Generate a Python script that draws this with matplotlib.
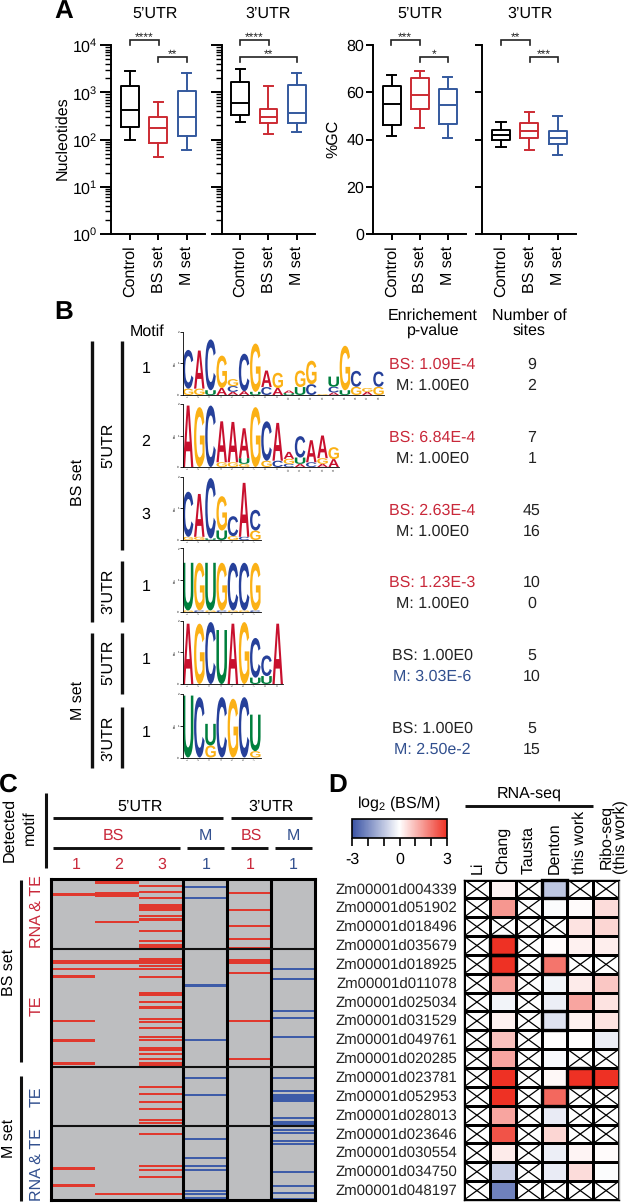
import numpy as np
import matplotlib
matplotlib.use("Agg")
from matplotlib import pylab as plt
from matplotlib.colors import LinearSegmentedColormap
from matplotlib.font_manager import FontProperties
from matplotlib.patches import PathPatch, Rectangle
from matplotlib.textpath import TextPath
from matplotlib.ticker import LogLocator, NullFormatter
from matplotlib.transforms import Affine2D

plt.rcParams["font.family"] = ["Liberation Sans", "DejaVu Sans"]
plt.rcParams["mathtext.default"] = "regular"
plt.rcParams["text.hinting"] = "no_hinting"
plt.rcParams["text.hinting_factor"] = 1

W, H = 630, 1203
FS = 11.3
RED = "#C9283A"
BLUE = "#32508F"
BOX_RED = "#CC2B33"
BOX_BLUE = "#34599E"

# panel A: whisker low, q1, median, q3, whisker high
groups = ["Control", "BS set", "M set"]
len_5utr = [[98, 184, 420, 1380, 2860], [42, 86, 172, 305, 620], [61, 117, 305, 1080, 2500]]
len_3utr = [[230, 335, 583, 1650, 3150], [132, 220, 295, 436, 1350], [141, 226, 363, 1420, 2590]]
gc_5utr = [[41.5, 46, 55, 62.5, 67.5], [45, 53, 59, 66, 69], [40.5, 46.5, 54.5, 61.5, 66.5]]
gc_3utr = [[37, 40, 42, 44, 47.5], [35.5, 40.5, 43.5, 47, 51.5], [33.5, 38, 40.5, 43.5, 50]]

# panel B: sequence logos, each column is (letter, bits) from the bottom up
logo1 = [
    [("G", .2), ("C", 1.22)], [("G", .2), ("A", 1.2)], [("U", .15), ("C", 1.6)],
    [("A", .22), ("G", 1.02)], [("A", .1), ("C", .18), ("G", .22)], [("A", .12), ("C", 1.18)],
    [("U", .1), ("G", 1.52)], [("C", .25), ("A", .52)], [("A", .22), ("G", .48)],
    [("U", .06), ("A", .08)], [("U", .25), ("G", .52)], [("C", .34), ("G", .74)],
    [("G", .03)], [("A", .08), ("C", .18), ("U", .32)], [("U", .15), ("G", 1.4)],
    [("G", .26), ("C", .5)], [("A", .1), ("G", .12)], [("G", .26), ("C", .48)],
]
logo2 = [
    [("A", 1.95)], [("G", 1.9)], [("C", 1.95)], [("G", .15), ("A", 1.3)], [("G", .15), ("A", 1.28)],
    [("G", .1), ("U", .18), ("A", .95)], [("G", 1.9)], [("G", .2), ("C", 1.25)], [("C", .2), ("A", 1.2)],
    [("C", .1), ("G", .16), ("A", .22)], [("A", .1), ("U", .2), ("C", .68)], [("C", .15), ("A", .7)],
    [("A", .1), ("G", .18), ("A", .72)], [("A", .25), ("G", .38)],
]
logo3 = [
    [("G", .1), ("C", 1.42)], [("G", .1), ("A", 1.35)], [("U", .05), ("C", 1.9)],
    [("U", .3), ("G", 1.08)], [("G", .12), ("C", .63)], [("C", .1), ("A", 1.7)],
    [("G", .3), ("C", .65)],
]
logo4 = [
    [("G", .05), ("U", 1.5)], [("C", .05), ("G", 1.5)], [("G", .05), ("U", 1.5)], [("C", .05), ("G", 1.5)],
    [("G", .05), ("C", 1.5)], [("G", .05), ("C", 1.5)], [("C", .05), ("G", 1.5)],
]
logo5 = [
    [("A", 1.9)], [("G", 1.9)], [("C", 1.95)], [("U", 1.7)], [("A", 1.9)], [("G", 1.95)],
    [("U", .2), ("C", 1.25)], [("U", .25), ("C", .65)], [("A", 1.9)],
]
logo6 = [
    [("U", 1.95)], [("C", 1.9)], [("G", .38), ("U", .68)], [("C", 1.9)], [("G", 1.85)], [("C", 1.9)],
    [("G", .2), ("U", 1.15)],
]
logos = [logo1, logo2, logo3, logo4, logo5, logo6]
motif_numbers = ["1", "2", "3", "1", "1", "1"]
bs_pvalues = ["BS: 1.09E-4", "BS: 6.84E-4", "BS: 2.63E-4", "BS: 1.23E-3", "BS: 1.00E0", "BS: 1.00E0"]
m_pvalues = ["M: 1.00E0", "M: 1.00E0", "M: 1.00E0", "M: 1.00E0", "M: 3.03E-6", "M: 2.50e-2"]
bs_sites = ["9", "7", "45", "10", "5", "5"]
m_sites = ["2", "1", "16", "0", "10", "15"]

# panel C: rows (genes, top to bottom) with a detected motif in each column
n_genes = 321
group_ends = [70, 188, 247]
hits_bs5_1 = [14, 15, 81, 82, 83, 89, 96, 97, 141, 160, 161, 183, 184, 288, 289, 305, 306]
hits_bs5_2 = [0, 1, 2, 3, 13, 14, 15, 16, 42, 81, 82, 83, 89, 314]
hits_bs5_3 = [6, 12, 18, 25, 26, 27, 28, 30, 36, 39, 40, 51, 61, 65, 66, 67, 68, 69, 79, 80, 81, 82, 83,
              86, 89, 97, 113, 114, 115, 122, 127, 128, 139, 142, 148, 157, 160, 168, 169, 170, 174, 179,
              183, 184, 185, 186, 187, 207, 214, 222, 229, 240, 243, 254, 286, 290, 297, 314]
hits_m5_1 = [7, 18, 105, 106, 160, 198, 215, 259, 278, 286, 290, 311, 314, 318]
hits_bs3_1 = [13, 30, 46, 59, 68, 80, 81, 82, 83, 93, 141, 179]
hits_m3_1 = [89, 99, 131, 138, 157, 198, 211, 215, 217, 218, 219, 220, 221, 238, 242, 244, 245, 246,
             250, 253, 261, 264, 292, 306, 313, 319]

# panel D
genes = ["Zm00001d004339", "Zm00001d051902", "Zm00001d018496", "Zm00001d035679", "Zm00001d018925",
         "Zm00001d011078", "Zm00001d025034", "Zm00001d031529", "Zm00001d049761", "Zm00001d020285",
         "Zm00001d023781", "Zm00001d052953", "Zm00001d028013", "Zm00001d023646", "Zm00001d030554",
         "Zm00001d034750", "Zm00001d048197"]
nan = np.nan
li = [nan] * 17
chang = [.15, 1.5, nan, 3, 3, 1.4, -.2, .2, .9, 1.3, 3, 3, 1.3, 2.5, .3, -.8, -2.2]
tausta = [nan] * 17
denton = [-1.0, -.05, nan, .05, 2, -.2, -.3, -.5, .02, -.1, .1, 2.2, -.35, .6, -.3, -.35, nan]
this_work = [nan, .05, .4, .2, nan, .3, 1.3, .2, .02, nan, 3, nan, nan, nan, .15, .5, nan]
ribo_seq = [nan, .5, .6, .25, nan, .8, .4, .4, -.3, nan, 3, nan, nan, nan, .05, -.05, nan]
strong_cells = [(0, 3), (3, 1), (4, 1), (4, 3), (7, 3), (10, 4), (11, 3)]

fig = plt.figure(figsize=(W / 100, H / 100), dpi=100)


def px_axes(x0, y0, x1, y1):
    return fig.add_axes([x0 / W, 1 - y1 / H, (x1 - x0) / W, (y1 - y0) / H])


# overlay in pixel units for labels and brackets
over = px_axes(0, 0, W, H)
over.set_xlim(0, W)
over.set_ylim(H, 0)
over.axis("off")
over.set_zorder(10)


def label(x, y, s, color="black", rot=0, size=FS, **kw):
    kw.setdefault("ha", "center")
    kw.setdefault("va", "center")
    over.text(x, y, s, color=color, rotation=rot, fontsize=size, **kw)


def bar(x0, y0, x1, y1, lw=2.1, color="#111111"):
    over.plot([x0, x1], [y0, y1], color=color, lw=lw, solid_capstyle="butt")


def bracket(x0, x1, y, stars):
    over.plot([x0, x0, x1, x1], [y + 5, y, y, y + 5], color="#222222", lw=1.2, solid_joinstyle="miter")
    over.text((x0 + x1) / 2, y - 2.5, stars, ha="center", va="center", fontsize=8.5, color="#222222")


# ---- panel A
def box_panel(x0, x1, top, bottom, data, log, tick_len):
    ax = px_axes(x0, top, x1, bottom)
    colors = ["black", BOX_RED, BOX_BLUE]
    for k, row in enumerate(data):
        stats = [dict(whislo=row[0], q1=row[1], med=row[2], q3=row[3], whishi=row[4], fliers=[])]
        style = dict(color=colors[k], linewidth=1.4)
        ax.bxp(stats, positions=[k + 1], widths=0.63, capwidths=0.33, showfliers=False,
               manage_ticks=False, boxprops=style, medianprops=style, whiskerprops=style,
               capprops=style)
    ax.set_xlim(1 - 19 / 28.5, 3 + 18.5 / 28.5)
    ax.set_xticks([1, 2, 3])
    ax.set_xticklabels(groups, rotation=90, fontsize=FS)
    if log:
        ax.set_yscale("log")
        ax.set_ylim(1, 1e4)
        ax.yaxis.set_major_locator(LogLocator(base=10, numticks=6))
        ax.yaxis.set_minor_locator(LogLocator(base=10, subs=np.arange(2, 10), numticks=6))
        ax.yaxis.set_minor_formatter(NullFormatter())
        ax.tick_params(axis="y", which="minor", length=4.5, width=1.0)
    else:
        ax.set_ylim(0, 80)
        ax.set_yticks([0, 20, 40, 60, 80])
    ax.tick_params(axis="y", which="major", length=tick_len, width=1.4, labelsize=FS, pad=1.5)
    ax.tick_params(axis="x", length=4.5, width=1.4, pad=4)
    for name in ("top", "right"):
        ax.spines[name].set_visible(False)
    for name in ("left", "bottom"):
        ax.spines[name].set_linewidth(1.4)
    return ax


ax1 = box_panel(111, 205, 45, 234, len_5utr, True, 8)
ax2 = box_panel(221.5, 315, 45, 234, len_3utr, True, 8)
ax3 = box_panel(373, 466, 45, 234, gc_5utr, False, 5)
ax4 = box_panel(482, 576, 45, 234, gc_3utr, False, 5)
ax2.tick_params(axis="y", which="major", labelleft=False)
ax4.tick_params(axis="y", which="major", labelleft=False)

label(155.5, 13.5, "5’UTR")
label(268.5, 13.5, "3’UTR")
label(420, 13.5, "5’UTR")
label(530, 13.5, "3’UTR")
label(62, 138, "Nucleotides", rot=90)
label(333, 139, "%GC", rot=90)

bracket(130, 158.5, 40, "****")
bracket(158, 187, 57, "**")
bracket(240, 268.5, 40, "****")
bracket(240, 297, 57, "**")
bracket(391, 419.5, 40, "***")
bracket(419.5, 448, 57, "*")
bracket(501, 529.5, 40, "**")
bracket(529.5, 558, 57, "***")

label(63.5, 11.5, "A", size=18.5, weight="bold")
label(64, 312, "B", size=18.5, weight="bold")
label(8.5, 785, "C", size=18.5, weight="bold")
label(338, 785, "D", size=18.5, weight="bold")

# ---- panel B
letter_colors = {"A": "#C8102E", "C": "#26409A", "G": "#FBB116", "U": "#007F3D"}
logo_font = FontProperties(family="Liberation Sans", weight="bold")
logo_boxes = [(331.5, 395), (404, 467), (476.5, 540), (548.5, 612), (620.5, 684), (694, 757.5)]


def draw_logo(ax, columns):
    for i, col in enumerate(columns):
        base = 0.0
        for letter, bits in col:
            path = TextPath((0, 0), letter, size=1, prop=logo_font)
            ext = path.get_extents()
            tr = (Affine2D().translate(-ext.x0, -ext.y0)
                  .scale(0.94 / ext.width, bits / ext.height)
                  .translate(i + 0.03, base))
            ax.add_patch(PathPatch(path, transform=tr + ax.transData, facecolor=letter_colors[letter], lw=0))
            base += bits
    ax.set_xlim(0, len(columns))
    ax.set_ylim(0, 2)
    ax.set_yticks([0, 1, 2])
    ax.set_xticks(np.arange(len(columns)) + 0.5)
    ax.set_xticklabels([str(n + 1) for n in range(len(columns))], rotation=90)
    ax.tick_params(axis="y", length=2, width=0.6, labelsize=2.5, pad=0.5)
    ax.tick_params(axis="x", length=0, labelsize=2.2, pad=0.5, labelcolor="#444444")
    ax.set_ylabel("bits", fontsize=2.5, labelpad=0.5)
    for name in ("top", "right"):
        ax.spines[name].set_visible(False)
    ax.spines["left"].set_linewidth(0.6)
    ax.spines["bottom"].set_linewidth(0.6)
    ax.patch.set_alpha(0)


for k, (top, bottom) in enumerate(logo_boxes):
    ax = px_axes(182.5, top, 182.5 + 11.2 * len(logos[k]), bottom)
    draw_logo(ax, logos[k])

label(147, 332, "Motif")
label(433, 323, "Enrichement\np-value", linespacing=1.05)
label(529, 323, "Number of\nsites", linespacing=1.05)

bar(91.5, 341, 91.5, 622, lw=2.4)
bar(91.5, 633, 91.5, 768, lw=2.4)
bar(121.5, 341, 121.5, 550, lw=2.4)
bar(121.5, 561, 121.5, 622, lw=2.4)
bar(121.5, 633, 121.5, 694, lw=2.4)
bar(121.5, 707, 121.5, 768, lw=2.4)
label(78, 482, "BS set", rot=90)
label(78, 700, "M set", rot=90)
label(108, 445, "5’UTR", rot=90)
label(108, 591, "3’UTR", rot=90)
label(108, 662, "5’UTR", rot=90)
label(108, 738, "3’UTR", rot=90)

bs_y = [365, 438, 511, 583, 656, 729]
for k, y in enumerate(bs_y):
    label(146, y + 4, motif_numbers[k])
    bs_color = RED if k < 4 else "#222222"
    m_color = BLUE if k >= 4 else "#222222"
    label(432, y, bs_pvalues[k], color=bs_color)
    label(432, y + 20.5, m_pvalues[k], color=m_color)
    label(532, y, bs_sites[k], color="#222222")
    label(532, y + 20.5, m_sites[k], color="#222222")

# ---- panel C
hit_columns = [hits_bs5_1, hits_bs5_2, hits_bs5_3, hits_m5_1, hits_bs3_1, hits_m3_1]
hit_colors = ["#E0392E", "#E0392E", "#E0392E", "#3E5CA8", "#E0392E", "#3E5CA8"]

ax_c = px_axes(51, 879, 315, 1200)
ax_c.set_facecolor("#BDBEC0")
for c, rows in enumerate(hit_columns):
    ax_c.barh(rows, 1, left=c, height=1.5, color=hit_colors[c], linewidth=0, align="edge")
ax_c.set_xlim(0, 6)
ax_c.set_ylim(n_genes, 0)
ax_c.set_xticks([])
ax_c.set_yticks([])
for s in ax_c.spines.values():
    s.set_linewidth(2.2)
for x in (3, 4, 5):
    ax_c.axvline(x, color="black", lw=2.2)
for y in group_ends:
    ax_c.axhline(y, color="#111111", lw=1.5)

label(9, 830, "Detected", rot=90)
label(30, 828, "motif", rot=90)
bar(45.7, 793, 45.7, 868, lw=2.2)
label(140, 807, "5’UTR")
label(271, 807, "3’UTR")
bar(53, 817.5, 222.5, 817.5)
bar(231, 817.5, 312, 817.5)
label(113, 836, "BS", color=RED)
label(205, 836, "M", color=BLUE)
label(251, 836, "BS", color=RED)
label(293, 836, "M", color=BLUE)
bar(53, 848, 180, 848)
bar(187, 848, 224, 848)
bar(231, 848, 268, 848)
bar(275, 848, 312, 848)
for x, s, col in zip([76, 119, 162, 206, 250, 293], ["1", "2", "3", "1", "1", "1"],
                     [RED, RED, RED, BLUE, RED, BLUE]):
    label(x, 865, s, color=col)

bar(20.7, 880, 20.7, 1062, lw=2.2)
bar(20.7, 1076, 20.7, 1201, lw=2.2)
label(9, 972, "BS set", rot=90)
label(9, 1138, "M set", rot=90)
label(37, 912, "RNA & TE", color=RED, rot=90)
label(37, 1006, "TE", color=RED, rot=90)
label(37, 1097, "TE", color=BLUE, rot=90)
label(37, 1165, "RNA & TE", color=BLUE, rot=90)

# ---- panel D
cmap_d = LinearSegmentedColormap.from_list("bwr_d", ["#3A53A4", "#FFFFFF", "#EE3124"])
values = np.array([li, chang, tausta, denton, this_work, ribo_seq]).T

ax_d = px_axes(464, 879.5, 619, 1200)
mesh = ax_d.pcolormesh(np.arange(7), np.arange(18), np.ma.masked_invalid(values), cmap=cmap_d,
                       vmin=-3, vmax=3, edgecolors="black", linewidth=0.9)
ax_d.set_xlim(0, 6)
ax_d.set_ylim(17, 0)
ax_d.set_xticks([])
ax_d.set_yticks(np.arange(17) + 0.5)
ax_d.set_yticklabels(genes, fontsize=10.8, color="#222222")
ax_d.tick_params(axis="y", length=0, pad=5)
for name, s in ax_d.spines.items():
    s.set_linewidth(1.0)
ax_d.spines["right"].set_color("#999999")
for r in range(17):
    for c in range(6):
        if np.isnan(values[r, c]):
            ax_d.add_patch(Rectangle((c, r), 1, 1, fill=False, edgecolor="black", lw=0.9))
            ax_d.plot([c, c + 1], [r, r + 1], color="black", lw=0.9)
            ax_d.plot([c, c + 1], [r + 1, r], color="black", lw=0.9)
for r, c in strong_cells:
    ax_d.add_patch(Rectangle((c, r), 1, 1, fill=False, edgecolor="black", lw=2.4, zorder=5, clip_on=False))

cax = px_axes(352, 819, 447, 838)
cb = fig.colorbar(mesh, cax=cax, orientation="horizontal", ticks=[-3, -2, -1, 0, 1, 2, 3])
cb.ax.set_xticklabels(["-3", "", "", "0", "", "", "3"], fontsize=FS)
cb.ax.tick_params(axis="x", length=6, width=1.2, pad=4)
cb.outline.set_linewidth(1.2)

label(399, 804, "log$_{2}$ (BS/M)")
label(529, 794, "RNA-seq")
bar(465, 806, 593, 806)
for x, s in zip([478, 503, 528, 554, 580], ["Li", "Chang", "Tausta", "Denton", "this work"]):
    label(x, 874, s, rot=90, va="bottom")
label(613, 874, "Ribo-seq\n(this work)", rot=90, va="bottom", linespacing=0.95)

fig.savefig("out.png", dpi=100)
